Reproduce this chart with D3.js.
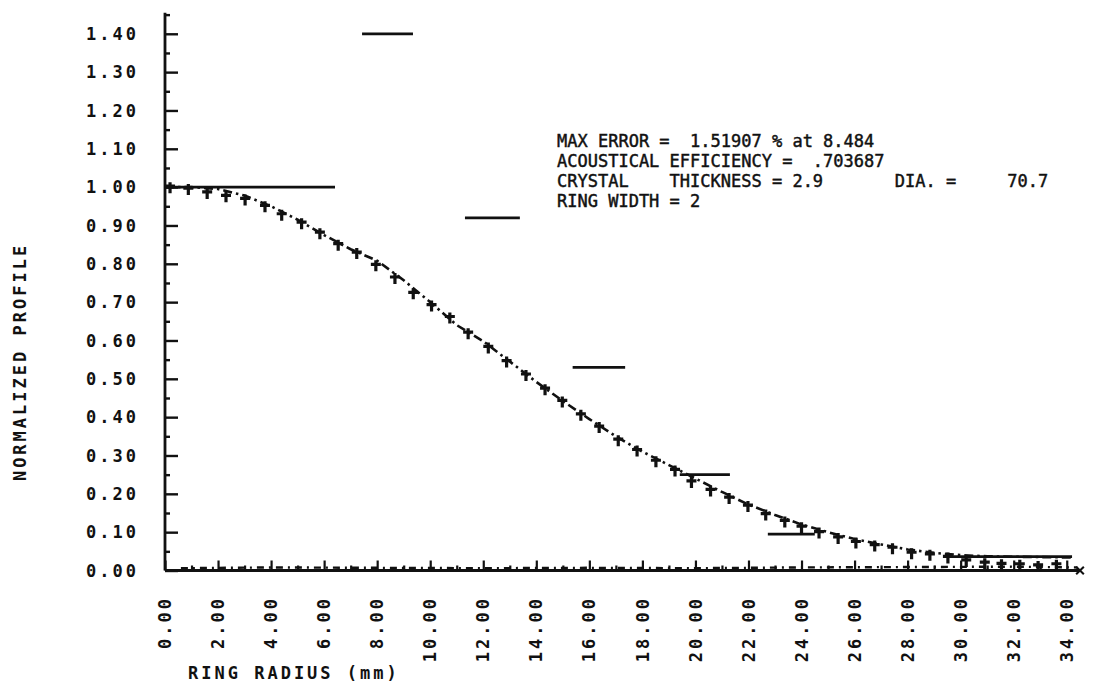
<!DOCTYPE html>
<html>
<head>
<meta charset="utf-8">
<script src="https://cdn.jsdelivr.net/npm/d3@7"></script>
<style>
body { margin: 0; background: #fff; }
svg { display: block; }
.lbl { font-family: "DejaVu Sans Mono", monospace; font-weight: bold; font-size: 17px; letter-spacing: 3px; fill: #111; }
.note { font-family: "DejaVu Sans Mono", monospace; font-size: 17px; fill: #111; stroke: #111; stroke-width: 0.45px; white-space: pre; }
</style>
</head>
<body>
<div id="viz"></div>
<script>
"use strict";

// target profile, "+" markers
var markerX = [0.19, 0.88, 1.59, 2.30, 3.02, 3.77, 4.40, 5.15, 5.84, 6.53, 7.23, 7.95, 8.67, 9.36, 10.05, 10.74, 11.43, 12.19, 12.88, 13.61,
	14.33, 14.98, 15.68, 16.37, 17.09, 17.80, 18.51, 19.23, 19.85, 20.57, 21.27, 21.98, 22.65, 23.37, 24.00, 24.66, 25.38, 26.05, 26.76,
	27.43, 28.15, 28.84, 29.52, 30.21, 30.91, 31.54, 32.23, 32.92, 33.61]
var markerY = [1.000, 0.995, 0.985, 0.976, 0.968, 0.950, 0.928, 0.906, 0.880, 0.850, 0.828, 0.796, 0.763, 0.723, 0.691, 0.660, 0.619, 0.582, 0.545, 0.510,
	0.473, 0.441, 0.406, 0.374, 0.340, 0.313, 0.285, 0.261, 0.231, 0.209, 0.189, 0.168, 0.146, 0.128, 0.113, 0.099, 0.085, 0.073, 0.065,
	0.058, 0.045, 0.041, 0.034, 0.025, 0.019, 0.016, 0.015, 0.012, 0.015]

// computed profile, dash-dot line
var curveX = [0, 1, 2, 3, 4, 5, 6, 7, 8, 9, 10, 11, 12, 13, 14, 15, 16, 17, 18, 19, 20, 21, 22, 23, 24, 25, 26, 27, 28, 29, 30, 31, 32, 33, 34.2]
var curveY = [1.000, 1.000, 0.995, 0.978, 0.950, 0.915, 0.875, 0.838, 0.808, 0.757, 0.700, 0.640, 0.598, 0.545, 0.492, 0.442, 0.395, 0.350, 0.310, 0.275,
	0.240, 0.205, 0.172, 0.145, 0.120, 0.100, 0.082, 0.068, 0.055, 0.046, 0.040, 0.037, 0.036, 0.035, 0.034]

// ring drive levels
var ringStart = [0, 7.43, 11.31, 15.37, 19.41, 22.73, 29.6]
var ringEnd = [6.41, 9.35, 13.38, 17.35, 21.30, 24.50, 34.2]
var ringLevel = [1.00, 1.40, 0.92, 0.53, 0.25, 0.095, 0.036]

// residual trace along the baseline
var residX = [0.6, 4, 8, 12, 16, 20, 24, 28, 32, 34.4]
var residY = [0.006, 0.008, 0.007, 0.006, 0.007, 0.006, 0.008, 0.009, 0.010, 0.008]

var xTickValues = [0, 2, 4, 6, 8, 10, 12, 14, 16, 18, 20, 22, 24, 26, 28, 30, 32, 34]
var yTickValues = [0, 0.1, 0.2, 0.3, 0.4, 0.5, 0.6, 0.7, 0.8, 0.9, 1.0, 1.1, 1.2, 1.3, 1.4]

var noteLines = [
	"MAX ERROR =  1.51907 % at 8.484",
	"ACOUSTICAL EFFICIENCY =  .703687",
	"CRYSTAL    THICKNESS = 2.9       DIA. =     70.7",
	"RING WIDTH = 2"
]

var W = 1095, H = 684

var svg = d3.select("#viz").append("svg")
	.attr("width", W)
	.attr("height", H)

var x = d3.scaleLinear().domain([0, 34.5]).range([165, 1080])
var y = d3.scaleLinear().domain([0, 1.455]).range([570.5, 12.7])

var ink = "#111"

// y axis, ticks point inward
var yAxis = d3.axisRight(y)
	.tickValues(d3.range(0, 1.451, 0.05))
	.tickSize(5)
	.tickFormat("")
var gy = svg.append("g").attr("transform", "translate(" + x(0) + ",0)").call(yAxis)
gy.select(".domain").attr("d", "M0," + y(0) + "V" + y(1.455)).attr("stroke", ink).attr("stroke-width", 2.8)
gy.selectAll(".tick line")
	.attr("stroke", ink).attr("stroke-width", 2.4)
	.attr("x2", function(d) { return Math.abs(d * 10 - Math.round(d * 10)) < 0.01 ? 13 : 5 })

svg.append("g").selectAll("text")
	.data(yTickValues)
	.enter().append("text")
	.attr("class", "lbl")
	.attr("x", 139)
	.attr("y", function(d) { return y(d) })
	.attr("dy", "0.36em")
	.attr("text-anchor", "end")
	.text(function(d) { return d.toFixed(2) })

// x axis, ticks point up
var xAxis = d3.axisTop(x)
	.tickValues(d3.range(0, 34.01, 1))
	.tickSize(4)
	.tickFormat("")
var gx = svg.append("g").attr("transform", "translate(0," + y(0) + ")").call(xAxis)
gx.select(".domain").attr("d", "M" + x(0) + ",0H" + x(34.5)).attr("stroke", ink).attr("stroke-width", 2.8)
gx.selectAll(".tick line")
	.attr("stroke", ink).attr("stroke-width", 2.2)
	.attr("y2", function(d) { return d % 2 === 0 ? -10 : -5 })

svg.append("path")
	.attr("d", d3.symbol(d3.symbolX, 40)())
	.attr("transform", "translate(" + x(34.5) + "," + y(0) + ")")
	.attr("stroke", ink).attr("stroke-width", 2).attr("fill", "none")

svg.append("g").selectAll("text")
	.data(xTickValues)
	.enter().append("text")
	.attr("class", "lbl")
	.attr("transform", function(d) { return "translate(" + x(d) + ",596) rotate(-90)" })
	.attr("dy", "0.36em")
	.attr("text-anchor", "end")
	.text(function(d) { return d.toFixed(2) })

// axis titles
svg.append("text")
	.attr("class", "lbl")
	.attr("transform", "translate(20,362) rotate(-90)")
	.attr("dy", "0.36em")
	.attr("text-anchor", "middle")
	.text("NORMALIZED PROFILE")

svg.append("text")
	.attr("class", "lbl")
	.attr("x", 188)
	.attr("y", 679)
	.text("RING RADIUS (mm)")

var line = d3.line()
	.x(function(d) { return x(d[0]) })
	.y(function(d) { return y(d[1]) })

// residual trace
svg.append("path")
	.attr("d", line(d3.zip(residX, residY)))
	.attr("fill", "none").attr("stroke", ink).attr("stroke-width", 2.4)
	.attr("stroke-dasharray", "7,5,2,5")

// ring levels
svg.append("g").selectAll("line")
	.data(d3.range(ringLevel.length))
	.enter().append("line")
	.attr("x1", function(i) { return x(ringStart[i]) })
	.attr("x2", function(i) { return x(ringEnd[i]) })
	.attr("y1", function(i) { return y(ringLevel[i]) })
	.attr("y2", function(i) { return y(ringLevel[i]) })
	.attr("stroke", ink).attr("stroke-width", 2.8)

// computed profile
svg.append("path")
	.attr("d", line(d3.zip(curveX, curveY)))
	.attr("fill", "none").attr("stroke", ink).attr("stroke-width", 2.6)
	.attr("stroke-dasharray", "9,4,2.5,4")

// target markers
svg.append("g").selectAll("path")
	.data(d3.zip(markerX, markerY))
	.enter().append("path")
	.attr("transform", function(d) { return "translate(" + x(d[0]) + "," + y(d[1]) + ")" })
	.attr("d", "M0,-5V6M-5,-1H5")
	.attr("stroke", ink).attr("stroke-width", 3.2).attr("fill", "none")

// annotation block
svg.append("g").selectAll("text")
	.data(noteLines)
	.enter().append("text")
	.attr("class", "note")
	.attr("x", 557)
	.attr("y", function(d, i) { return 147 + i * 20 })
	.text(function(d) { return d })
</script>
</body>
</html>
